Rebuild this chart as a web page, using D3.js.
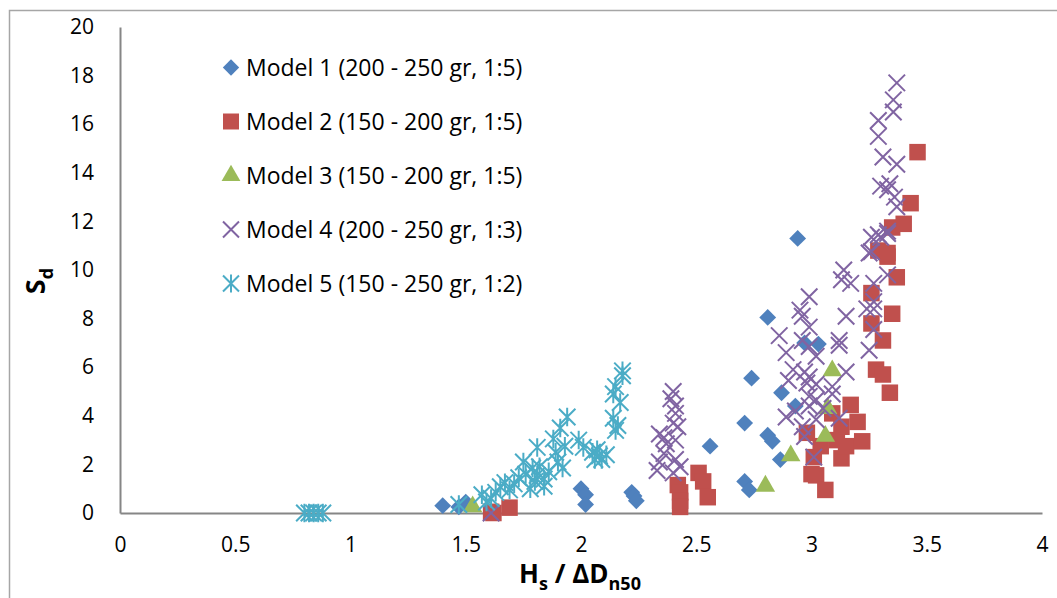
<!DOCTYPE html>
<html>
<head>
<meta charset="utf-8">
<script src="https://cdn.jsdelivr.net/npm/d3@7"></script>
<style>
  body { margin: 0; background: #fff; }
  svg { display: block; font-family: "Open Sans", Lato, sans-serif; }
</style>
</head>
<body>
<div id="chart"></div>
<script>
// series names for the legend
var seriesNames = [
  "Model 1 (200 - 250 gr, 1:5)",
  "Model 2 (150 - 200 gr, 1:5)",
  "Model 3 (150 - 200 gr, 1:5)",
  "Model 4 (200 - 250 gr, 1:3)",
  "Model 5 (150 - 250 gr, 1:2)"
];

// [Hs/ΔDn50, Sd]
var model1 = [[1.40,0.3],[1.47,0.25],[1.50,0.45],[2.00,1.0],[2.02,0.75],[2.02,0.35],
  [2.22,0.85],[2.23,0.7],[2.24,0.5],[2.56,2.75],[2.71,3.7],[2.71,1.3],[2.73,0.95],
  [2.74,5.55],[2.81,3.2],[2.83,2.95],[2.865,2.2],[2.87,4.95],[2.93,4.4],[2.81,8.05],
  [2.94,11.3],[2.97,7.0],[3.03,6.95]];

var model2 = [[1.61,0.05],[1.62,0.0],[1.69,0.22],
  [2.42,1.15],[2.43,0.85],[2.43,0.5],[2.43,0.25],[2.51,1.65],[2.53,1.3],[2.55,0.65],
  [2.98,3.3],[3.00,1.6],[3.02,1.55],[3.01,2.3],[3.04,2.75],[3.06,0.95],[3.09,4.1],
  [3.11,3.0],[3.13,3.55],[3.13,2.25],[3.15,2.75],[3.17,4.45],[3.20,3.75],[3.22,2.95],
  [3.26,9.05],[3.26,7.8],[3.28,5.9],[3.29,10.8],[3.31,5.7],[3.31,7.1],[3.33,10.55],
  [3.33,10.7],[3.34,4.95],[3.35,8.2],[3.35,11.75],[3.37,9.7],[3.40,11.9],[3.43,12.75],
  [3.46,14.85]];

var model3 = [[1.53,0.3],[2.80,1.15],[2.91,2.4],[3.06,3.2],[3.07,4.35],[3.09,5.9]];

var model4 = [[1.61,0.0],
  [2.33,1.75],[2.34,2.1],[2.36,2.45],[2.37,2.85],[2.34,3.25],[2.36,3.1],[2.40,1.65],
  [2.43,1.9],[2.41,2.2],[2.41,3.0],[2.42,3.55],[2.40,3.7],[2.41,4.1],[2.41,4.4],
  [2.39,4.7],[2.40,5.0],
  [2.86,7.3],[2.89,6.6],[2.89,3.95],[2.90,5.45],[2.92,5.9],[2.93,4.2],[2.95,8.35],
  [2.96,8.1],[2.96,7.1],[2.96,3.55],[2.97,3.15],[2.97,5.8],[2.98,5.35],[2.99,8.9],
  [2.99,7.65],[2.99,6.85],[2.99,5.6],[2.99,4.8],[2.99,4.4],[3.01,2.3],[3.02,6.45],
  [3.02,5.3],[3.02,4.65],[3.02,3.85],[3.05,4.3],[3.09,5.2],[3.09,4.9],[3.12,3.9],
  [3.12,6.9],[3.12,7.1],[3.13,9.6],[3.14,10.0],[3.15,5.8],[3.15,8.1],[3.17,9.45],
  [3.24,8.4],[3.25,6.7],[3.25,10.7],[3.26,11.35],[3.27,8.7],[3.27,8.4],[3.27,7.55],
  [3.27,9.45],[3.26,10.75],[3.29,11.45],[3.30,11.35],[3.33,11.5],[3.33,11.6],[3.33,9.8],
  [3.29,15.5],[3.29,16.15],[3.30,13.45],[3.31,14.65],[3.33,13.3],[3.34,13.55],
  [3.36,13.0],[3.37,12.6],[3.37,14.35],[3.355,16.5],[3.355,17.0],[3.37,17.7]];

var model5 = [[0.80,0],[0.82,0],[0.84,0],[0.86,0],[0.88,0],
  [1.47,0.35],[1.57,0.75],[1.59,0.45],[1.61,0.6],[1.63,0.85],[1.65,1.08],[1.67,1.25],
  [1.69,0.95],[1.71,1.2],[1.73,1.45],[1.75,2.1],[1.76,1.6],[1.78,1.0],[1.79,1.85],
  [1.80,1.3],[1.81,2.7],[1.81,1.55],[1.82,1.9],[1.84,1.1],[1.84,1.4],[1.86,1.7],
  [1.88,3.05],[1.89,2.5],[1.90,2.1],[1.91,3.5],[1.92,1.85],[1.93,2.75],[1.94,3.95],
  [1.99,3.0],[2.01,2.7],[2.05,2.5],[2.06,2.2],[2.07,2.6],[2.08,2.35],[2.09,2.2],
  [2.11,2.4],[2.14,3.9],[2.15,3.4],[2.16,3.6],[2.14,4.9],[2.15,5.2],[2.17,4.55],
  [2.18,5.85],[2.18,5.65]];

var xTicks = [0, 0.5, 1, 1.5, 2, 2.5, 3, 3.5, 4];
var yTicks = [0, 2, 4, 6, 8, 10, 12, 14, 16, 18, 20];

var colors = ["#4F81BD", "#C0504D", "#9BBB59", "#8064A2", "#4BACC6"];
var allSeries = [model1, model2, model3, model4, model5];

var W = 1057, H = 598;

var svg = d3.select("#chart").append("svg")
  .attr("width", W).attr("height", H);

// outer chart frame (right / bottom edges fall outside the picture)
svg.append("rect")
  .attr("x", 9.5).attr("y", 10.5)
  .attr("width", 1100).attr("height", 700)
  .attr("fill", "none").attr("stroke", "#a6a6a6").attr("stroke-width", 1.5);

var x = d3.scaleLinear().domain([0, 4]).range([120, 1042]);
var y = d3.scaleLinear().domain([0, 20]).range([513, 27]);

// axes
var gx = svg.append("g")
  .attr("transform", "translate(0," + y(0) + ")")
  .call(d3.axisBottom(x).tickValues(xTicks).tickSize(0).tickPadding(28)
    .tickFormat(function(d) { return String(d); }));
var gy = svg.append("g")
  .attr("transform", "translate(" + x(0) + ",0)")
  .call(d3.axisLeft(y).tickValues(yTicks).tickSize(0).tickPadding(26));

[gx, gy].forEach(function(g) {
  g.select(".domain").attr("stroke", "#868686").attr("stroke-width", 2);
  g.selectAll("text").attr("font-size", 21).attr("fill", "#000")
    .attr("font-family", "'Open Sans', Lato, sans-serif");
});
gx.selectAll("text").attr("dy", "0.5em");

// marker shapes
function markerPath(i, s) {
  if (i === 0) return d3.symbol().type(d3.symbolSquare).size(s * s * 0.52)();
  if (i === 1) return d3.symbol().type(d3.symbolSquare).size(s * s)();
  if (i === 2) return d3.symbol().type(d3.symbolTriangle).size(s * s * 0.6)();
  var h = s / 2;
  if (i === 3) return "M" + (-h) + "," + (-h) + "L" + h + "," + h + "M" + h + "," + (-h) + "L" + (-h) + "," + h;
  return "M" + (-h) + "," + (-h) + "L" + h + "," + h + "M" + h + "," + (-h) + "L" + (-h) + "," + h +
    "M0," + (-h - 1) + "L0," + (h + 1);
}

function styleMarker(sel, i) {
  if (i < 3) {
    sel.attr("fill", colors[i]).attr("stroke", "none");
  } else {
    sel.attr("fill", "none").attr("stroke", colors[i]).attr("stroke-width", 2);
  }
}

var markerSize = 16.5;

allSeries.forEach(function(data, i) {
  var pts = svg.append("g").attr("class", "series" + (i + 1))
    .selectAll("path")
    .data(data)
    .enter()
    .append("path")
      .attr("d", markerPath(i, markerSize))
      .attr("transform", function(d) {
        var t = "translate(" + x(d[0]) + "," + y(d[1]) + ")";
        if (i === 2) t += " translate(0,1)";
        return i === 0 ? t + " rotate(45)" : t;
      });
  styleMarker(pts, i);
});

// legend
var legend = svg.append("g");
seriesNames.forEach(function(name, i) {
  var ly = 67.5 + i * 54;
  var m = legend.append("path")
    .attr("d", markerPath(i, 16))
    .attr("transform", "translate(231," + ly + ")" + (i === 0 ? " rotate(45)" : ""));
  styleMarker(m, i);
  legend.append("text")
    .attr("x", 246).attr("y", ly)
    .attr("dy", "0.36em")
    .attr("font-size", 23)
    .attr("fill", "#000")
    .text(name);
});

// axis titles
var yt = svg.append("text")
  .attr("transform", "translate(45,281) rotate(-90)")
  .attr("text-anchor", "middle")
  .attr("font-size", 27).attr("font-weight", "bold");
yt.append("tspan").text("S");
yt.append("tspan").attr("font-size", 18).attr("dy", 8).text("d");

var xt = svg.append("text")
  .attr("x", 580).attr("y", 583)
  .attr("text-anchor", "middle")
  .attr("font-size", 26).attr("font-weight", "bold");
xt.append("tspan").text("H");
xt.append("tspan").attr("font-size", 18).attr("dy", 7).text("s");
xt.append("tspan").attr("dy", -7).text(" / \u0394D");
xt.append("tspan").attr("font-size", 18).attr("dy", 7).text("n50");
</script>
</body>
</html>
